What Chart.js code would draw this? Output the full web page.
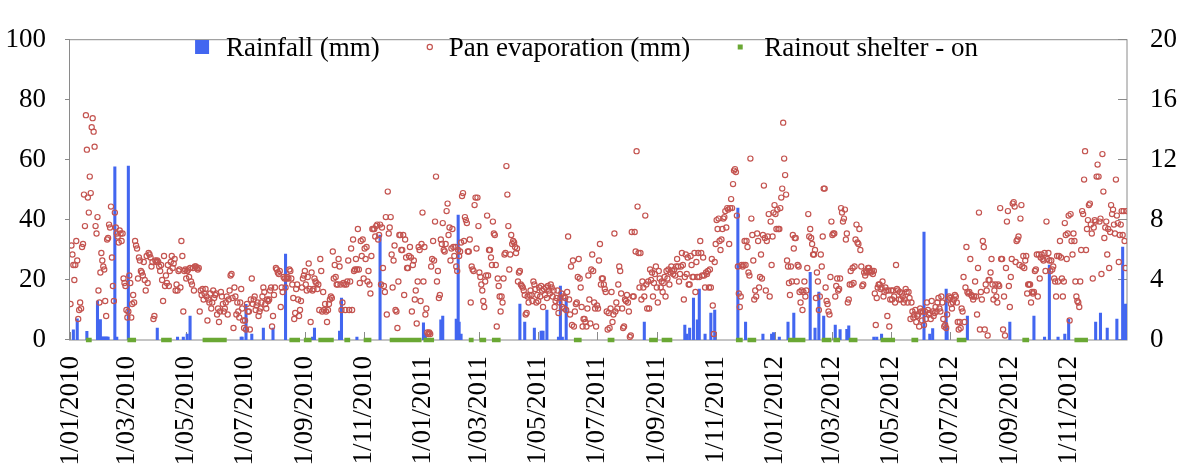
<!DOCTYPE html>
<html><head><meta charset="utf-8">
<script src="https://cdn.jsdelivr.net/npm/chart.js@4.4.1/dist/chart.umd.min.js"></script>
<style>html,body{margin:0;padding:0;background:#fff;}canvas{display:block;}</style>
</head><body>
<canvas id="c" width="1187" height="465"></canvas>
<script>
// ---- x-axis tick labels (day index from 1/01/2010) ----
const tickDays = [0,59,120,181,243,304,365,424,485,546,608,669,730,790,851,912,974,1035];
const tickLabels = ["1/01/2010","1/03/2010","1/05/2010","1/07/2010","1/09/2010","1/11/2010",
  "1/01/2011","1/03/2011","1/05/2011","1/07/2011","1/09/2011","1/11/2011",
  "1/01/2012","1/03/2012","1/05/2012","1/07/2012","1/09/2012","1/11/2012"];

// ---- rainfall (mm), left axis: day index and amount ----
const rainDay = [3,7,17,28,31,32,33,34,35,36,37,38,39,46,48,60,90,111,117,121,124,177,178,182,188,200,210,223,251,253,279,281,297,321,
  366,368,384,386,400,402,403,405,466,471,481,488,490,494,506,508,510,514,595,637,639,642,646,650,652,658,664,668,692,700,718,727,729,
  735,744,750,767,772,776,781,793,798,805,807,833,836,841,885,891,894,908,909,930,974,999,1010,1015,1024,1031,1035,1063,1068,1075,1085,1091,1094];
const rainMm = [3.4,7.1,2.9,13,6.8,1,1,1,1,1,1,1,1,57.8,1,58,4,1,1,2,8,1,1,11.9,2,4,4,28.7,1,4,3,14,1,35,
  5.7,2,6.7,8,7,41.7,6,2,12,6,4,3,3,10,1,18,1,14,6,5,2,4,14,6.7,17,2,9,10,44,6,2,2,2.5,
  1,6,9,22.6,4,16,8,5,3.5,3.6,4.7,1,1,2,36,2,3.8,17,4,8,6,8,1,25,1,2,7,6,9,4,7,31,12];

// ---- pan evaporation (mm), right axis, daily ----
const evap2010 = [
  2.4,6.3,5.7,5.0,4.0,5.0,6.6,5.3,1.4,2.0,2.5,2.1,6.2,6.4,9.7,7.6,15.0,12.7,9.5,8.5,10.9,9.8,14.2,14.8,13.9,12.9,7.6,7.1,8.2,3.3,2.5,
  4.5,5.8,5.3,4.9,4.7,2.6,1.6,6.7,6.8,7.7,7.5,8.9,5.5,3.6,2.6,8.5,7.5,7.1,6.9,6.5,7.3,7.1,6.6,7.1,4.1,3.8,3.6,2.0,
  1.5,1.9,4.3,3.8,1.5,2.4,3.0,2.5,6.6,6.3,6.1,4.1,5.5,5.3,4.6,4.5,4.3,5.2,4.0,3.3,5.6,3.8,5.8,5.7,5.5,4.9,5.2,1.4,1.6,5.3,5.2,
  5.3,5.2,4.9,4.6,5.0,4.0,2.6,5.6,3.6,4.3,3.8,5.0,3.6,4.6,5.2,5.6,4.8,5.1,5.4,3.3,3.7,3.3,4.6,4.7,3.5,6.6,5.6,1.9,4.6,4.7,
  4.1,4.6,4.7,4.2,4.8,3.9,3.7,4.8,3.3,4.9,4.9,4.8,4.7,4.8,1.9,3.3,3.0,3.4,2.7,3.1,3.4,2.9,1.3,2.7,2.5,3.1,2.1,2.5,3.3,2.8,3.0,
  3.1,1.7,2.1,1.2,1.9,3.2,2.9,2.4,1.9,2.1,2.5,2.9,1.7,2.7,3.3,4.3,4.4,2.8,0.8,3.5,2.9,1.7,2.5,1.9,1.5,2.5,3.4,2.1,1.3,0.8,
  1.3,0.7,2.4,1.9,1.9,0.7,2.7,4.1,2.4,2.7,2.9,2.0,2.3,2.5,1.6,1.9,2.1,2.5,2.9,3.5,3.2,2.4,2.1,2.7,2.6,2.7,3.3,3.5,0.9,1.6,3.0,
  3.5,4.8,4.7,4.5,4.4,4.6,2.2,3.5,3.2,4.2,4.1,3.5,4.1,4.2,4.1,4.7,4.6,4.1,3.7,2.8,1.4,1.8,3.4,3.7,2.7,1.6,2.0,2.6,3.5,4.1,4.3,
  4.6,3.7,3.3,4.2,5.1,3.4,1.2,4.5,3.3,3.4,4.1,3.9,3.8,3.4,3.7,2.0,5.4,4.6,1.9,3.2,2.0,2.4,1.9,1.2,2.0,2.4,2.7,2.9,2.8,5.9,
  4.1,5.0,4.2,3.7,3.7,5.4,4.9,3.7,2.0,2.5,3.8,3.7,2.0,3.7,3.9,5.3,2.0,3.9,6.1,2.0,6.7,4.6,4.7,5.4,4.7,7.4,4.7,3.8,6.6,5.6,6.7,
  4.1,6.1,5.4,6.2,3.9,4.6,3.7,3.1,5.6,7.4,7.4,7.4,6.9,7.6,7.7,6.7,7.0,7.7,3.7,7.5,4.8,3.6,3.2,8.2,1.7,9.9,7.1,7.5,8.2,5.7,
  3.5,5.3,6.3,2.0,1.9,0.8,3.9,7.0,7.0,6.0,6.0,7.0,3.0,6.7,5.5,4.8,4.8,5.6,6.2,5.5,1.9,5.0,5.3,2.7,3.3,1.1,3.9,6.2,6.0,2.6,6.4];
const evap2011 = [
  8.5,3.9,6.2,1.7,2.1,0.5,0.4,0.5,0.4,4.9,5.4,6.6,5.3,7.9,10.9,3.9,4.6,2.8,3.0,6.7,6.4,7.8,6.0,5.9,6.4,8.6,9.1,7.0,7.5,5.3,6.1,
  7.4,6.2,5.6,6.2,4.9,4.6,6.0,5.6,5.9,6.5,9.6,9.8,6.6,8.2,8.0,7.8,5.9,5.9,6.7,2.5,4.9,4.7,4.6,9.0,9.5,6.1,9.5,7.6,
  4.5,4.2,3.7,3.3,2.6,2.2,3.9,4.3,8.3,4.3,6.0,6.0,5.5,5.0,7.9,7.1,7.0,5.0,0.9,4.1,3.6,2.9,1.9,2.9,2.5,4.1,5.7,5.8,11.6,9.7,7.6,
  4.7,5.7,7.0,6.4,6.6,6.5,6.2,5.8,6.1,3.9,4.5,4.6,3.7,3.6,3.5,3.3,3.0,1.7,1.8,2.9,2.5,3.0,3.3,3.0,2.6,3.9,3.7,3.4,2.5,3.0,
  2.6,3.5,2.9,3.6,3.3,2.2,3.4,3.0,3.5,2.8,3.6,3.3,3.1,3.7,3.5,2.9,3.3,2.2,2.6,2.8,3.3,1.8,2.5,2.8,3.1,2.2,2.9,2.1,2.8,2.0,3.2,
  6.9,2.7,1.7,4.9,1.0,5.3,0.9,1.9,2.4,2.5,4.2,5.4,4.1,3.5,2.2,0.9,1.4,1.4,1.2,0.9,2.1,4.3,2.7,1.1,4.7,5.7,4.6,2.5,2.1,0.9,
  2.3,2.1,5.3,6.4,3.7,4.1,4.1,3.7,3.4,3.2,1.9,0.7,1.8,0.8,2.1,3.2,1.2,1.7,7.1,1.9,2.5,2.1,3.7,4.9,4.6,3.1,2.1,0.8,0.9,2.7,2.6,
  3.0,2.5,1.9,0.2,0.3,7.2,2.9,2.9,7.2,5.9,12.6,8.9,5.8,3.5,5.8,2.7,3.9,3.5,2.9,8.3,3.7,2.1,3.9,2.1,4.7,4.0,4.5,2.9,3.8,4.4,4.9,
  3.5,2.5,4.6,4.1,3.5,3.9,3.2,3.8,4.2,2.9,4.6,4.1,4.7,3.7,4.5,4.9,4.6,4.4,4.7,4.3,4.9,5.4,4.9,3.9,4.4,4.9,5.8,5.0,2.7,4.2,
  5.7,4.4,5.5,3.7,3.7,5.6,5.0,4.2,4.2,5.8,3.2,5.2,4.2,5.8,4.2,6.6,5.8,4.3,5.5,4.3,3.5,4.5,4.4,4.6,3.5,4.7,3.5,5.4,2.3,0.4,5.2,
  6.4,8.0,7.4,8.1,6.6,6.0,6.7,7.4,8.1,8.2,8.6,7.5,8.8,8.7,6.4,8.8,9.4,8.8,10.4,11.3,11.4,11.2,8.3,4.9,3.1,2.2,2.9,5.0,4.9,5.0,
  6.6,5.0,6.6,6.2,4.5,4.3,12.1,8.1,7.0,5.3,2.7,3.3,2.9,7.1,6.6,3.5,4.2,5.7,4.1,7.0,10.3,6.8,3.3,6.6,6.9,8.4,2.9,7.9,5.0,6.9,8.5];
const evap2012 = [
  9.0,8.4,7.4,8.7,7.4,7.4,8.8,9.5,10.1,14.5,12.1,11.0,9.7,5.3,4.9,3.8,3.0,4.9,3.9,7.0,6.1,6.8,6.8,3.9,5.0,4.9,3.2,2.5,3.3,2.0,3.2,
  3.9,2.9,3.3,4.8,8.4,6.9,7.4,6.8,6.4,5.7,5.7,6.0,2.8,4.5,3.9,2.0,2.9,5.7,4.9,6.9,10.1,10.1,3.5,2.6,2.4,1.9,1.7,4.2,7.9,
  7.0,7.1,7.1,2.9,3.6,4.1,3.3,3.4,4.1,8.8,8.5,7.9,8.1,8.7,6.7,7.1,2.5,2.7,3.7,4.6,3.7,4.8,3.8,4.9,6.7,7.7,6.5,6.4,7.4,6.0,4.9,
  3.6,3.7,4.5,4.3,4.6,4.5,4.8,4.8,4.6,4.5,4.6,4.4,4.6,3.1,1.0,2.8,3.5,3.7,3.7,3.4,3.5,3.9,2.9,3.2,3.5,3.3,1.6,3.3,0.9,2.7,
  3.3,2.7,3.3,2.9,2.5,5.0,3.4,3.3,2.7,3.2,2.7,3.1,2.9,2.5,2.7,3.4,3.2,2.5,3.2,2.8,1.4,2.5,1.9,1.5,1.7,2.0,1.2,1.6,1.7,0.9,2.1,
  1.9,1.3,1.9,1.0,1.9,1.4,2.5,2.0,1.7,1.8,1.4,2.6,1.9,1.6,1.8,2.2,1.9,2.5,2.8,2.1,1.9,2.9,2.5,1.4,0.9,1.0,0.8,1.7,2.7,2.9,
  2.8,2.4,2.1,2.5,2.7,3.0,2.9,2.5,1.2,0.7,1.2,0.8,2.1,1.9,4.2,1.2,3.5,6.2,3.2,3.1,3.2,5.4,3.0,2.9,2.7,2.9,3.9,2.9,1.7,4.8,8.5,
  0.7,3.2,2.7,6.6,6.2,0.7,3.7,3.3,0.3,4.0,4.0,4.5,5.4,3.7,2.7,3.3,3.7,2.9,2.5,3.7,3.6,8.8,5.4,5.4,0.7,2.9,0.3,4.8,7.9,8.6,3.6,
  2.2,4.2,5.4,9.1,9.2,8.9,5.2,6.6,6.7,6.9,5.0,8.1,9.0,4.9,5.6,4.8,5.3,5.6,3.1,3.7,3.7,3.7,2.5,3.2,3.1,3.2,4.6,4.7,5.7,2.9,
  5.7,4.1,5.5,5.7,5.4,5.3,5.8,4.6,7.9,5.4,5.8,5.3,4.6,5.3,4.7,4.9,4.1,3.9,2.9,5.6,3.9,5.6,6.6,5.5,4.1,2.9,3.9,7.8,7.0,5.4,7.1,
  8.3,1.3,8.4,6.6,5.7,7.1,6.6,3.9,2.9,2.6,2.5,2.2,3.9,6.0,8.6,8.4,10.7,12.6,6.0,7.4,8.0,9.0,9.1,7.7,7.1,4.1,7.5,8.0,7.9,10.9,
  11.7,10.9,7.9,8.1,4.4,12.4,9.9,6.8,7.5,7.9,5.7,7.4,4.8,7.2,9.0,8.4,8.7,7.7,7.1,10.7,8.3,7.8,5.2,7.0,7.7,8.6,7.0,8.6,6.6,4.8,8.6];

// ---- rainout shelter on: [first day, last day] ----
const shelterOn = [[16,22],[59,68],[94,105],[137,162],[227,238],[242,250],[257,273],[284,290],[304,312],[331,364],[366,377],
  [413,418],[424,431],[437,446],[522,530],[557,564],[600,609],[613,624],[690,697],[702,711],[744,762],[779,789],[791,798],
  [807,816],[840,855],[872,879],[919,929],[987,994],[1041,1055]];

const BLUE = 'rgb(66,102,240)';
const RED = 'rgb(196,84,80)';
const GREEN = 'rgb(106,168,52)';
const FAMILY = '"Liberation Serif", "Times New Roman", serif';
const FSIZE = 27;

const evapAll = evap2010.concat(evap2011, evap2012);
const rainData = rainDay.map((d, i) => ({x: d, y: rainMm[i]}));
const evapData = evapAll.map((v, i) => ({x: i, y: v}));
const shelterData = [];
shelterOn.forEach(([s, e]) => { shelterData.push({x: s, y: 0}, {x: e, y: 0}, {x: e + 0.5, y: null}); });

const legendStyle = [
  {kind: 'square', size: 14, color: BLUE, gap: 24},
  {kind: 'circle', r: 2.6, color: RED, gap: 19},
  {kind: 'square', size: 5, color: GREEN, gap: 24}
];

const framePlugin = {
  id: 'frame',
  beforeDatasetsDraw(chart) {
    const {ctx, chartArea: a, scales} = chart;
    ctx.save();
    ctx.strokeStyle = '#8a8a8a';
    ctx.lineWidth = 1;
    ctx.strokeRect(a.left - 0.5, a.top - 0.5, a.right - a.left + 0.5, a.bottom - a.top + 0.5);
    ctx.beginPath();
    scales.y.ticks.forEach(t => {
      const y = Math.round(scales.y.getPixelForValue(t.value)) - 0.5;
      ctx.moveTo(a.left - 5, y); ctx.lineTo(a.left, y);
    });
    scales.y2.ticks.forEach(t => {
      const y = Math.round(scales.y2.getPixelForValue(t.value)) - 0.5;
      ctx.moveTo(a.right - 9, y); ctx.lineTo(a.right, y);
    });
    tickDays.forEach(d => {
      const x = Math.round(scales.x.getPixelForValue(d)) + 0.5;
      ctx.moveTo(x, a.bottom); ctx.lineTo(x, a.bottom - 8);
    });
    ctx.stroke();
    ctx.restore();
  }
};

const legendPlugin = {
  id: 'legendInside',
  afterDraw(chart) {
    const {ctx, chartArea: a} = chart;
    ctx.save();
    ctx.font = FSIZE + 'px ' + FAMILY;
    const labels = chart.data.datasets.map(ds => ds.label);
    const widths = labels.map(t => ctx.measureText(t).width);
    const firstHalf = legendStyle[0].size / 2;
    let total = firstHalf;
    labels.forEach((t, i) => { total += legendStyle[i].gap + widths[i] + (i < labels.length - 1 ? 50 : 0); });
    const center = (a.left + a.right) / 2 - 12;
    let mx = center - total / 2 + firstHalf;
    const my = 47, base = 56;
    labels.forEach((t, i) => {
      const st = legendStyle[i];
      if (st.kind === 'square') {
        ctx.fillStyle = st.color;
        ctx.fillRect(mx - st.size / 2, my - st.size / 2, st.size, st.size);
      } else {
        ctx.strokeStyle = st.color; ctx.lineWidth = 1.2;
        ctx.beginPath(); ctx.arc(mx, my, st.r, 0, Math.PI * 2); ctx.stroke();
      }
      ctx.fillStyle = '#000';
      ctx.textBaseline = 'alphabetic';
      ctx.textAlign = 'left';
      const tx = mx + st.gap;
      ctx.fillText(t, tx, base);
      mx = tx + widths[i] + 50;
    });
    ctx.restore();
  }
};

const tickFont = {family: FAMILY, size: FSIZE};

new Chart(document.getElementById('c'), {
  type: 'bar',
  data: {
    datasets: [
      {type: 'bar', label: 'Rainfall (mm)', data: rainData, yAxisID: 'y', xAxisID: 'x',
       backgroundColor: BLUE, barThickness: 2.4, order: 3},
      {type: 'line', label: 'Pan evaporation (mm)', data: evapData, yAxisID: 'y2', xAxisID: 'x',
       showLine: false, pointRadius: 2.6, pointBorderWidth: 1.2, pointBorderColor: RED,
       pointBackgroundColor: 'rgba(255,255,255,0)', borderColor: RED, order: 2},
      {type: 'line', label: 'Rainout shelter - on', data: shelterData, yAxisID: 'y', xAxisID: 'x',
       borderColor: GREEN, borderWidth: 4.5, pointRadius: 0, spanGaps: false, borderCapStyle: 'butt',
       clip: false, order: 1}
    ]
  },
  options: {
    responsive: false, animation: false, events: [],
    layout: {padding: {top: 18, left: 0, right: 0, bottom: 0}},
    plugins: {legend: {display: false}, tooltip: {enabled: false}},
    scales: {
      x: {
        type: 'linear', min: -0.5, max: 1095.5, offset: false,
        grid: {display: false, drawTicks: false}, border: {display: false},
        afterBuildTicks: s => { s.ticks = tickDays.map(v => ({value: v})); },
        afterFit: s => { s.height = 125; },
        ticks: {autoSkip: false, minRotation: 90, maxRotation: 90, padding: 16, font: tickFont, color: '#000',
          callback: v => { const k = tickDays.indexOf(v); return k >= 0 ? tickLabels[k] : ''; }}
      },
      y: {
        position: 'left', min: 0, max: 100,
        ticks: {stepSize: 20, padding: 24, font: tickFont, color: '#000'},
        grid: {display: false, drawTicks: false}, border: {display: false},
        afterFit: s => { s.width = 70; }
      },
      y2: {
        position: 'right', min: 0, max: 20,
        ticks: {stepSize: 4, padding: 23, font: tickFont, color: '#000'},
        grid: {display: false, drawTicks: false}, border: {display: false},
        afterFit: s => { s.width = 60; }
      }
    }
  },
  plugins: [framePlugin, legendPlugin]
});
</script>
</body></html>
